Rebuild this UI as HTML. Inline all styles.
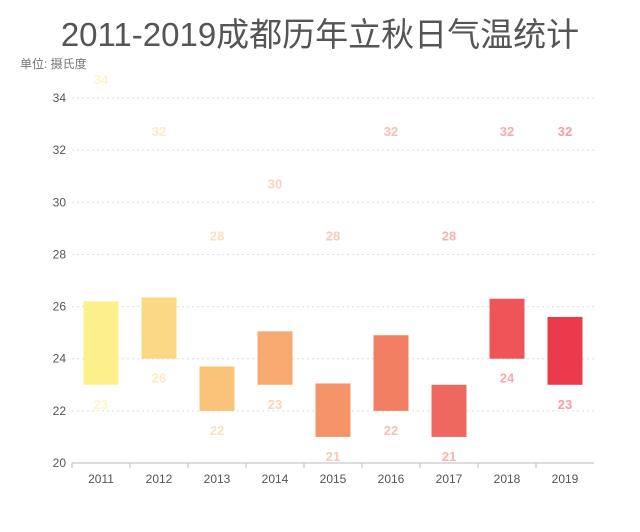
<!DOCTYPE html>
<html><head><meta charset="utf-8"><style>
body{margin:0;background:#fff;width:640px;height:527px;overflow:hidden}
text{font-family:"Liberation Sans","Noto Sans CJK SC",sans-serif}
</style></head><body>
<svg id="c" width="640" height="527">
<text x="320" y="46" text-anchor="middle" font-size="33" fill="#555">2011-2019成都历年立秋日气温统计</text>
<text x="20" y="68" font-size="12" fill="#777">单位: 摄氏度</text>
</svg>
<script>
const years=["2011","2012","2013","2014","2015","2016","2017","2018","2019"];
const lows=[23,24,22,23,21,22,21,24,23];
const lowLabels=[23,26,22,23,21,22,21,24,23];
const barTops=[26.2,26.35,23.7,25.05,23.05,24.9,23,26.3,25.6];
const highs=[34,32,28,30,28,32,28,32,32];
const yTicks=[20,22,24,26,28,30,32,34];
const colors=["#fdf08a","#fbd883","#f9c47a","#f8a970","#f59469","#f27f64","#ef6860","#ee5458","#eb3a4b"];
const svg=document.getElementById('c'),NS="http://www.w3.org/2000/svg";
const x0=72,x1=594,y0=463,yTop=98,vMin=20,vMax=34;
const y=v=>y0-(v-vMin)*(y0-yTop)/(vMax-vMin);
const bw=(x1-x0)/years.length;
const xc=i=>x0+bw*(i+0.5);
function mk(t,a,txt){const e=document.createElementNS(NS,t);for(const k in a)e.setAttribute(k,a[k]);if(txt!==undefined)e.textContent=txt;svg.appendChild(e);return e;}
yTicks.forEach(v=>{
 if(v>vMin){const g=mk('line',{x1:x0,x2:x1,y1:y(v),y2:y(v),stroke:'#ddd','stroke-dasharray':'2,3'});
 
 }
 const t=mk('text',{x:66,y:y(v)+4,'text-anchor':'end','font-size':12,fill:'#555'},v);
 
 
});
const ax=mk('line',{x1:x0,x2:x1,y1:y0,y2:y0,stroke:'#bbb'});


years.forEach((yr,i)=>{
 const cx=xc(i);
 const tk=mk('line',{x1:cx-bw/2,x2:cx-bw/2,y1:y0,y2:y0+5,stroke:'#bbb'});
 
 
 const r=mk('rect',{x:cx-17.5,y:y(barTops[i]),width:35,height:y(lows[i])-y(barTops[i]),fill:colors[i]});
 
 
 const hl=mk('text',{x:cx,y:y(highs[i])-14,'text-anchor':'middle','font-size':13,'font-weight':'bold',fill:colors[i],opacity:0.5},highs[i]);
 
 
 const ll=mk('text',{x:cx,y:y(lows[i])+24,'text-anchor':'middle','font-size':13,'font-weight':'bold',fill:colors[i],opacity:0.5},lowLabels[i]);
 
 
 const xl=mk('text',{x:cx,y:y0+20,'text-anchor':'middle','font-size':12,fill:'#555'},yr);
 
 
});
</script>
</body></html>
